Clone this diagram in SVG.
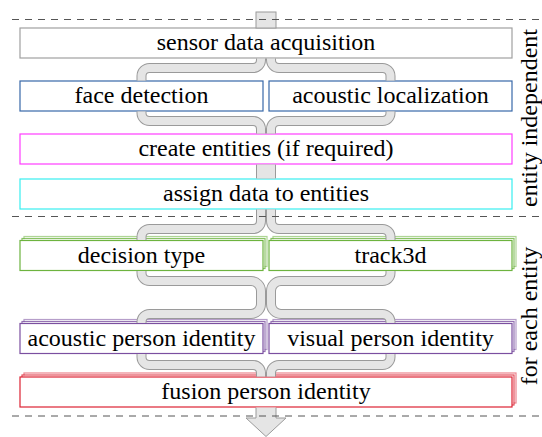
<svg xmlns="http://www.w3.org/2000/svg" width="542" height="437" viewBox="0 0 542 437">
<style>
text{font-family:'Liberation Serif','Times New Roman',Times,'DejaVu Serif',serif;font-size:24px;fill:#000;text-anchor:middle}
.box{fill:#fff;stroke-width:1.2}
.gray{stroke:#a0a0a0}
.blue{stroke:#3768a8}
.mag{stroke:#ff3cff}
.cyan{stroke:#38eef0}
.green{stroke:#6db33f}
.purple{stroke:#7b4fa0}
.red{stroke:#dd2233}
.l1{opacity:0.55}
.l2{opacity:0.8}
.co{fill:none;stroke:#9a9a9a;stroke-width:10}
.ci{fill:none;stroke:#e5e5e5;stroke-width:8}
.so{fill:none;stroke:#9a9a9a;stroke-width:20}
.si{fill:none;stroke:#e5e5e5;stroke-width:18}
.dash{stroke:#555;stroke-width:1;stroke-dasharray:7 6;fill:none}
</style>

<g id="sensor">
<rect class="box gray" x="20" y="28" width="492" height="30"/>
<text x="266" y="50" font-family="Liberation Serif, serif">sensor data acquisition</text>
</g>
<g id="face">
<rect class="box blue" x="20" y="81" width="243" height="30"/>
<text x="141.5" y="103" font-family="Liberation Serif, serif">face detection</text>
</g>
<g id="acoustic-loc">
<rect class="box blue" x="269" y="81" width="243" height="30"/>
<text x="390.5" y="103" font-family="Liberation Serif, serif">acoustic localization</text>
</g>
<g id="create">
<rect class="box mag" x="20" y="134" width="492" height="30"/>
<text x="266" y="156" font-family="Liberation Serif, serif">create entities (if required)</text>
</g>
<g id="assign">
<rect class="box cyan" x="20" y="179" width="492" height="30"/>
<text x="266" y="201" font-family="Liberation Serif, serif">assign data to entities</text>
</g>
<g id="decision">
<rect class="box green l1" x="24" y="236.5" width="243" height="30"/>
<rect class="box green l2" x="22" y="238.5" width="243" height="30"/>
<rect class="box green" x="20" y="240.5" width="243" height="30"/>
<text x="141.5" y="262.5" font-family="Liberation Serif, serif">decision type</text>
</g>
<g id="track3d">
<rect class="box green l1" x="273" y="236.5" width="243" height="30"/>
<rect class="box green l2" x="271" y="238.5" width="243" height="30"/>
<rect class="box green" x="269" y="240.5" width="243" height="30"/>
<text x="390.5" y="262.5" font-family="Liberation Serif, serif">track3d</text>
</g>
<g id="acoustic-person">
<rect class="box purple l1" x="24" y="319.5" width="243" height="30"/>
<rect class="box purple l2" x="22" y="321.5" width="243" height="30"/>
<rect class="box purple" x="20" y="323.5" width="243" height="30"/>
<text x="141.5" y="345.5" font-family="Liberation Serif, serif">acoustic person identity</text>
</g>
<g id="visual-person">
<rect class="box purple l1" x="273" y="319.5" width="243" height="30"/>
<rect class="box purple l2" x="271" y="321.5" width="243" height="30"/>
<rect class="box purple" x="269" y="323.5" width="243" height="30"/>
<text x="390.5" y="345.5" font-family="Liberation Serif, serif">visual person identity</text>
</g>
<g id="fusion">
<rect class="box red l1" x="24" y="373" width="492" height="30"/>
<rect class="box red l2" x="22" y="375" width="492" height="30"/>
<rect class="box red" x="20" y="377" width="492" height="30"/>
<text x="266" y="399" font-family="Liberation Serif, serif">fusion person identity</text>
</g>

<g id="connectors">
<rect x="256" y="12" width="20" height="16" fill="#e5e5e5" stroke="#9a9a9a" stroke-width="1"/>
<path class="co" d="M261,58.6 V60 A8,8 0 0 1 253,68 H149.5 A8,8 0 0 0 141.5,76 V80.4"/>
<path class="ci" d="M261,58.6 V60 A8,8 0 0 1 253,68 H149.5 A8,8 0 0 0 141.5,76 V80.4"/>
<path class="co" d="M271,58.6 V60 A8,8 0 0 0 279,68 H382.5 A8,8 0 0 1 390.5,76 V80.4"/>
<path class="ci" d="M271,58.6 V60 A8,8 0 0 0 279,68 H382.5 A8,8 0 0 1 390.5,76 V80.4"/>

<path class="co" d="M141.5,111.6 V113 A8,8 0 0 0 149.5,121 H253 A8,8 0 0 1 261,129 V133.4"/>
<path class="ci" d="M141.5,111.6 V113 A8,8 0 0 0 149.5,121 H253 A8,8 0 0 1 261,129 V133.4"/>
<path class="co" d="M390.5,111.6 V113 A8,8 0 0 1 382.5,121 H279 A8,8 0 0 0 271,129 V133.4"/>
<path class="ci" d="M390.5,111.6 V113 A8,8 0 0 1 382.5,121 H279 A8,8 0 0 0 271,129 V133.4"/>

<path class="so" d="M266,164.6 V178.4"/>
<path class="si" d="M266,164.6 V178.4"/>

<path class="co" d="M261,209.6 V221 A8,8 0 0 1 253,229 H149.5 A8,8 0 0 0 141.5,237 V239.9"/>
<path class="ci" d="M261,209.6 V221 A8,8 0 0 1 253,229 H149.5 A8,8 0 0 0 141.5,237 V239.9"/>
<path class="co" d="M271,209.6 V221 A8,8 0 0 0 279,229 H382.5 A8,8 0 0 1 390.5,237 V239.9"/>
<path class="ci" d="M271,209.6 V221 A8,8 0 0 0 279,229 H382.5 A8,8 0 0 1 390.5,237 V239.9"/>

<path class="co" d="M141.5,271.1 V273 A8,8 0 0 0 149.5,281 H251 A10,10 0 0 1 261,291 V304 A10,10 0 0 1 251,314 H149.5 A8,8 0 0 0 141.5,322 V322.9"/>
<path class="ci" d="M141.5,271.1 V273 A8,8 0 0 0 149.5,281 H251 A10,10 0 0 1 261,291 V304 A10,10 0 0 1 251,314 H149.5 A8,8 0 0 0 141.5,322 V322.9"/>
<path class="co" d="M390.5,271.1 V273 A8,8 0 0 1 382.5,281 H281 A10,10 0 0 0 271,291 V304 A10,10 0 0 0 281,314 H382.5 A8,8 0 0 1 390.5,322 V322.9"/>
<path class="ci" d="M390.5,271.1 V273 A8,8 0 0 1 382.5,281 H281 A10,10 0 0 0 271,291 V304 A10,10 0 0 0 281,314 H382.5 A8,8 0 0 1 390.5,322 V322.9"/>

<path class="co" d="M141.5,354.1 V357 A8,8 0 0 0 149.5,365 H253 A8,8 0 0 1 261,373 V376.4"/>
<path class="ci" d="M141.5,354.1 V357 A8,8 0 0 0 149.5,365 H253 A8,8 0 0 1 261,373 V376.4"/>
<path class="co" d="M390.5,354.1 V357 A8,8 0 0 1 382.5,365 H279 A8,8 0 0 0 271,373 V376.4"/>
<path class="ci" d="M390.5,354.1 V357 A8,8 0 0 1 382.5,365 H279 A8,8 0 0 0 271,373 V376.4"/>

<path d="M256,407.6 V418 H246 L266,436.5 L286,418 H276 V407.6" fill="#e5e5e5" stroke="#9a9a9a" stroke-width="1"/>
</g>

<g id="separators">
<line class="dash" x1="12" y1="19.5" x2="540" y2="19.5"/>
<line class="dash" x1="12" y1="216.5" x2="540" y2="216.5"/>
<line class="dash" x1="12" y1="416" x2="540" y2="416"/>
</g>

<g id="labels">
<text transform="translate(537,118) rotate(-90)" font-family="Liberation Serif, serif">entity independent</text>
<text transform="translate(537,316) rotate(-90)" font-family="Liberation Serif, serif">for each entity</text>
</g>
</svg>
